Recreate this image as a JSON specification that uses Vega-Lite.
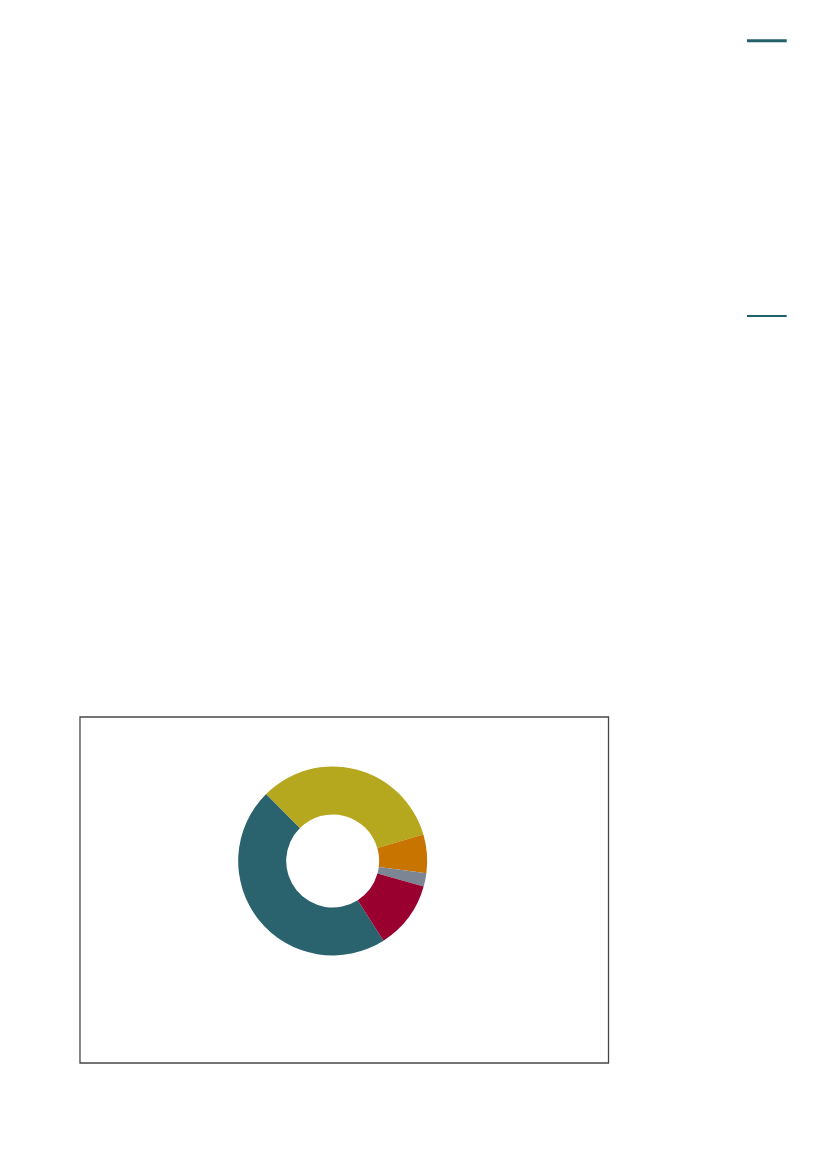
{
  "$schema": "https://vega.github.io/schema/vega-lite/v6.json",
  "width": 827,
  "height": 1169,
  "autosize": {"type": "fit", "contains": "padding"},
  "padding": 0,
  "background": "#ffffff",
  "config": {"view": {"stroke": null}},
  "layer": [
    {
      "data": {"values": [{"line": "top", "y": 10.34, "w": "thick"}, {"line": "second", "y": 80.28, "w": "thin"}]},
      "mark": {"type": "rule", "color": "#22616a"},
      "encoding": {
        "x": {"datum": 189.69, "type": "quantitative", "scale": {"domain": [0, 210], "nice": false, "zero": false}, "axis": null},
        "x2": {"datum": 199.77},
        "y": {"field": "y", "type": "quantitative", "scale": {"domain": [0, 297], "reverse": true, "nice": false, "zero": false}, "axis": null},
        "strokeWidth": {"field": "w", "type": "nominal", "scale": {"domain": ["thick", "thin"], "range": [3, 2]}, "legend": null}
      }
    },
    {
      "data": {"values": [{}]},
      "mark": {"type": "rect", "fill": "#ffffff", "stroke": "#474747", "strokeWidth": 1.3},
      "encoding": {
        "x": {"datum": 20.31, "type": "quantitative"},
        "x2": {"datum": 154.52},
        "y": {"datum": 182.16, "type": "quantitative"},
        "y2": {"datum": 270.07}
      }
    },
    {
      "data": {
        "values": [
          {"category": "A", "share": 46.6},
          {"category": "B", "share": 32.9},
          {"category": "C", "share": 6.6},
          {"category": "D", "share": 2.3},
          {"category": "E", "share": 11.6}
        ]
      },
      "mark": {"type": "arc", "radius": 94.5, "radius2": 46.5},
      "encoding": {
        "x": {"datum": 84.48, "type": "quantitative"},
        "y": {"datum": 218.75, "type": "quantitative"},
        "theta": {"field": "share", "type": "quantitative", "stack": true, "scale": {"range": [2.574, 8.857]}},
        "order": {"field": "category", "type": "nominal"},
        "color": {
          "field": "category",
          "type": "nominal",
          "scale": {"domain": ["A", "B", "C", "D", "E"], "range": ["#2a636d", "#b5a81e", "#c77400", "#7b8594", "#990030"]},
          "legend": null
        }
      }
    }
  ]
}
